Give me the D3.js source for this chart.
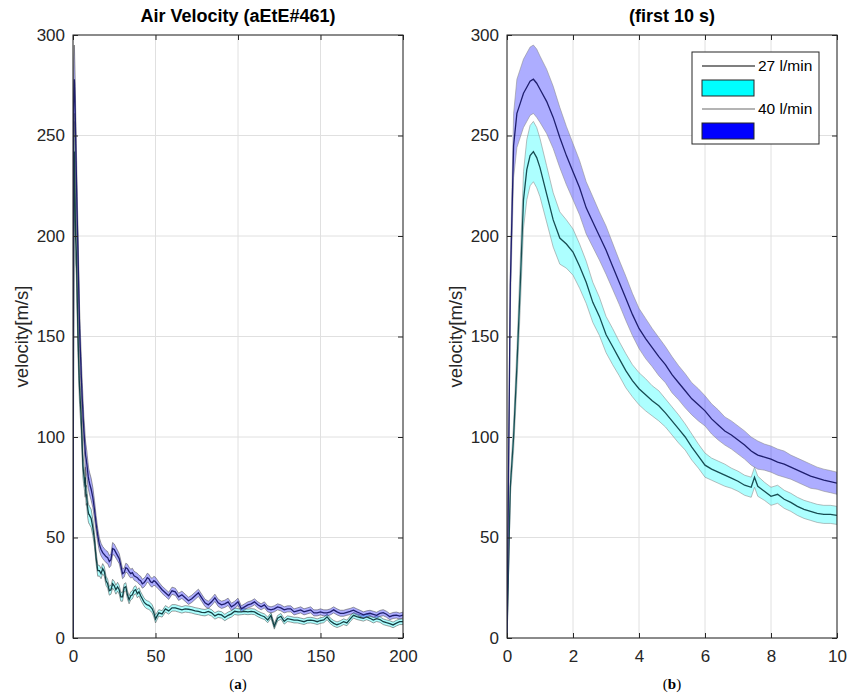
<!DOCTYPE html>
<html>
<head>
<meta charset="utf-8">
<script src="https://cdn.jsdelivr.net/npm/d3@7"></script>
<style>
  body { margin: 0; background: #fff; }
  svg text { font-family: "Liberation Sans", Arial, sans-serif; fill: #262626; }
</style>
</head>
<body>
<svg id="chart" width="848" height="693"></svg>
<script>
// ---- data ----
// first 10 s (panel b, and start of panel a)
var tShort = [0,0.1,0.2,0.3,0.4,0.5,0.6,0.7,0.8,0.9,1.0,
  1.2,1.4,1.6,1.8,2.0,2.2,2.4,2.6,2.8,3.0,3.2,3.4,3.6,3.8,4.0,4.2,4.4,4.6,4.8,5.0,
  5.2,5.4,5.6,5.8,6.0,6.2,6.4,6.6,6.8,7.0,7.2,7.4,7.5,7.6,7.8,8.0,8.2,8.4,8.6,8.8,
  9.0,9.2,9.4,9.6,9.8,10.0];

var mean27Short = [0,75,100,135,175,218,233,240,242,239,234,
  221,208,199,196,192,185,177,167,160,151,145,139,133,128,124,121,118,115.5,112,108,
  104,100,95,90.5,86,84,82.5,81,79.5,78,76,75,80,75.5,73,70.5,71.5,69,67.5,65.5,
  64,63,62,61.5,61.5,61];
var band27Short = [0,5,7,9,12,14,15,15,15,15,14.5,
  14,13.5,13,12,11.5,11,10.5,10,9.5,9,9,8.5,8.5,8,8,8,7.5,7.5,7,7,
  7,6.5,6.5,6,6,5.5,5.5,5.5,5,5,5,5,5,5,4.5,4.5,4.5,4.5,4.5,4.5,
  4.5,4.5,4.5,4.5,4.5,4.5];

var mean40Short = [0,175,245,261,266,271,274,277,278,276,273,
  267,259,249,240,232,224,214,207,200,193,185,177,169,161,154,149,144.5,140,136,131,
  127,123,119,116,113,109,106,103,101,98.5,96,93,92,91,90,89,87.5,86.5,85,83.5,
  82,80.5,79.5,78.5,77.8,77];
var band40Short = [0,12,16,17,17,17,17,17,17,17,16.5,
  16,15.5,15,14.5,14,13.5,13,12.5,12,12,11.5,11,11,10.5,10,10,9.5,9.5,9,9,
  8.5,8.5,8,8,7.5,7.5,7.5,7,7,7,7,7,7,7,6.5,6.5,6.5,6.5,6,6,
  6,6,5.5,5.5,5.5,5.5];

// 11 s .. 50 s every 1 s, then 52 s .. 200 s every 2 s (panel a)
var tLong = [11,12,13,14,15,16,17,18,19,20,21,22,23,24,25,26,27,28,29,30,
  31,32,33,34,35,36,37,38,39,40,41,42,43,44,45,46,47,48,49,50,
  52,54,56,58,60,62,64,66,68,70,72,74,76,78,80,82,84,86,88,90,
  92,94,96,98,100,102,104,106,108,110,112,114,116,118,120,122,124,126,128,130,
  132,134,136,138,140,142,144,146,148,150,152,154,156,158,160,162,164,166,168,170,
  172,174,176,178,180,182,184,186,188,190,192,194,196,198,200];

var mean27Long = [59.5,55,49,40,33.5,33.5,32,34.5,33,28.5,
  27,23.5,24,27,26,24,25.5,24,20.5,20.5,
  25,25.5,21.5,19,21,21.5,23.5,24,22,23,
  21,19.5,18,17,16.5,16.2,15.5,14.5,12.5,9.5,
  12.5,12,14.5,13.5,15,15,14.5,14,14.5,14.3,
  14,13.5,13.2,12.8,12.6,13.2,12.5,11,11.8,11.5,
  10.2,11.3,12,13.3,13,13,13.2,13,13.2,13,
  12,11.2,10.6,9,11.2,5.8,9.8,10.8,8.3,9.6,
  9.3,8.9,8.9,8.5,8.1,8.8,8.9,8.6,8.1,8.7,
  9,10.5,8.5,7.3,6.6,7.2,8.1,7.5,9.5,11.3,
  10.6,10.2,9.8,10.5,9.8,8.9,9.6,9.2,8.1,7.6,
  7.2,6.5,7.4,8.1,8.1];
var band27Long = [4.5,4,3.5,3,2.8,2.6,2.5,2.5,2.4,2.3,
  2.2,2.2,2.2,2.2,2.2,2.2,2.2,2.2,2.2,2.2,
  2,2,2,2,2,2,2,2,2,2,
  2,2,2,2,2,2,2,2,2,2,
  1.6,1.6,1.6,1.6,1.6,1.6,1.6,1.6,1.6,1.6,
  1.6,1.6,1.6,1.6,1.6,1.6,1.6,1.6,1.6,1.6,
  1.6,1.6,1.6,1.6,1.6,1.4,1.4,1.4,1.4,1.4,
  1.4,1.4,1.4,1.4,1.4,1.4,1.4,1.4,1.4,1.4,
  1.4,1.4,1.4,1.4,1.4,1.4,1.4,1.4,1.4,1.4,
  1.4,1.4,1.4,1.4,1.4,1.4,1.4,1.4,1.4,1.4,
  1.4,1.4,1.4,1.4,1.4,1.4,1.4,1.4,1.4,1.4,
  1.4,1.4,1.4,1.4,1.4];

var mean40Long = [74,70,64,57,51,46.5,44,42.5,41.5,40.5,
  40,38,39,44.5,44,42.5,41,39.5,36,32,
  32.5,35,34.5,33,32,32.5,31,30.5,30,29,
  28.5,27,27.5,28.5,30,29.5,28,27.5,28.5,28,
  26,24,22.5,21,23.5,23,20.5,21.5,20,18.5,
  19.5,21,22.5,20,17.5,16.5,18,20,17.5,16.5,
  17,18,15.5,16.5,18,14.5,15.5,16.5,17,18,
  16.5,15.5,16.5,14.5,14,14.5,15.5,15,14,14.5,
  14.5,13,13.5,14,13,13.5,14,12.5,12.5,13,
  12.5,12.5,13,14,13,12.3,12.3,12.8,13.2,13.8,
  13,12.3,11.5,12,12.3,11.8,11.3,12.2,12.6,11.8,
  10.6,11.2,11.4,10.9,11.4];
var band40Long = [5.5,5,4.5,4,3.5,3.3,3.1,3,3,3,
  3,3,3,3,2.8,2.7,2.6,2.5,2.5,2.5,
  2.2,2.2,2.2,2.2,2.2,2.2,2.2,2.2,2.2,2.2,
  2.2,2.2,2.2,2.2,2.2,2.2,2.2,2.2,2.2,2.2,
  1.8,1.8,1.8,1.8,1.8,1.8,1.8,1.8,1.8,1.8,
  1.8,1.8,1.8,1.8,1.8,1.8,1.8,1.8,1.8,1.8,
  1.8,1.8,1.8,1.8,1.8,1.5,1.5,1.5,1.5,1.5,
  1.5,1.5,1.5,1.5,1.5,1.5,1.5,1.5,1.5,1.5,
  1.5,1.5,1.5,1.5,1.5,1.5,1.5,1.5,1.5,1.5,
  1.5,1.5,1.5,1.5,1.5,1.5,1.5,1.5,1.5,1.5,
  1.5,1.5,1.5,1.5,1.5,1.5,1.5,1.5,1.5,1.5,
  1.5,1.5,1.5,1.5,1.5];

var yTicks = [0,50,100,150,200,250,300];
var xTicksA = [0,50,100,150,200];
var xTicksB = [0,2,4,6,8,10];
var legendNames = ["27 l/min", "40 l/min"];

// ---- drawing ----
var svg = d3.select("#chart");

function rows(t, m, b){
  return t.map(function(v, i){ return {t: v, m: m[i], b: b[i]}; });
}

var s27a = rows(tShort.concat(tLong), mean27Short.concat(mean27Long), band27Short.concat(band27Long));
var s40a = rows(tShort.concat(tLong), mean40Short.concat(mean40Long), band40Short.concat(band40Long));
var s27b = rows(tShort, mean27Short, band27Short);
var s40b = rows(tShort, mean40Short, band40Short);

var plotTop = 35, plotBottom = 638;

function panel(id, x0, x1, xMax, xTicks, title, series, edge){
  var x = d3.scaleLinear().domain([0, xMax]).range([x0, x1]);
  var y = d3.scaleLinear().domain([0, 300]).range([plotBottom, plotTop]);
  var g = svg.append("g");

  // grid
  g.selectAll(".gx").data(xTicks).enter().append("line")
    .attr("x1", function(d){ return x(d); }).attr("x2", function(d){ return x(d); })
    .attr("y1", plotTop).attr("y2", plotBottom)
    .attr("stroke", "#e0e0e0").attr("stroke-width", 1);
  g.selectAll(".gy").data(yTicks).enter().append("line")
    .attr("x1", x0).attr("x2", x1)
    .attr("y1", function(d){ return y(d); }).attr("y2", function(d){ return y(d); })
    .attr("stroke", "#e0e0e0").attr("stroke-width", 1);

  svg.append("clipPath").attr("id", id)
    .append("rect").attr("x", x0).attr("y", plotTop).attr("width", x1 - x0).attr("height", plotBottom - plotTop);
  var plot = g.append("g").attr("clip-path", "url(#" + id + ")");

  var area = d3.area()
    .x(function(d){ return x(d.t); })
    .y0(function(d){ return y(d.m - d.b); })
    .y1(function(d){ return y(d.m + d.b); });
  var line = d3.line()
    .x(function(d){ return x(d.t); })
    .y(function(d){ return y(d.m); });

  series.forEach(function(s){
    plot.append("path").datum(s.data).attr("d", area)
      .attr("fill", s.fill).attr("fill-opacity", 0.32)
      .attr("stroke", edge).attr("stroke-opacity", 0.7).attr("stroke-width", 0.8);
    plot.append("path").datum(s.data).attr("d", line)
      .attr("fill", "none").attr("stroke", s.line).attr("stroke-width", 1.3);
  });

  // axes, ticks pointing inward
  g.append("g").attr("transform", "translate(0," + plotBottom + ")")
    .call(d3.axisBottom(x).tickValues(xTicks).tickSize(-5).tickPadding(12));
  g.append("g").attr("transform", "translate(" + x0 + ",0)")
    .call(d3.axisLeft(y).tickValues(yTicks).tickSize(-5).tickPadding(8));
  g.append("g").attr("transform", "translate(0," + plotTop + ")")
    .call(d3.axisTop(x).tickValues(xTicks).tickSize(-5).tickFormat(""));
  g.append("g").attr("transform", "translate(" + x1 + ",0)")
    .call(d3.axisRight(y).tickValues(yTicks).tickSize(-5).tickFormat(""));
  g.selectAll(".domain").remove();
  g.selectAll(".tick line").attr("stroke", "#262626");
  g.selectAll(".tick text").style("font-size", "17px").style("fill", "#262626")
    .style("font-family", "'Liberation Sans', Arial, sans-serif");

  g.append("rect").attr("x", x0).attr("y", plotTop).attr("width", x1 - x0).attr("height", plotBottom - plotTop)
    .attr("fill", "none").attr("stroke", "#262626").attr("stroke-width", 1);

  g.append("text").attr("x", (x0 + x1) / 2).attr("y", 22)
    .attr("text-anchor", "middle").style("font-size", "18px").style("font-weight", "bold")
    .style("fill", "#000").text(title);

  g.append("text")
    .attr("transform", "translate(" + (x0 - 45) + "," + ((plotTop + plotBottom) / 2) + ") rotate(-90)")
    .attr("text-anchor", "middle").style("font-size", "18.5px").text("velocity[m/s]");
}

panel("clipA", 73, 403, 200, xTicksA, "Air Velocity (aEtE#461)", [
  {data: s27a, fill: "#00ffff", line: "#143f44"},
  {data: s40a, fill: "#0000ff", line: "#1e1e6e"}
], "#505050");
panel("clipB", 507, 837, 10, xTicksB, "(first 10 s)", [
  {data: s27b, fill: "#00ffff", line: "#174d52"},
  {data: s40b, fill: "#0000ff", line: "#1e1e6e"}
], "#8a8a8a");

// legend (as in the figure: line + patch per entry)
var lg = svg.append("g").attr("transform", "translate(692,52)");
lg.append("rect").attr("width", 127).attr("height", 92)
  .attr("fill", "#fff").attr("stroke", "#262626").attr("stroke-width", 1);
var legendLine = ["#000000", "#6b6b6b"];
var legendPatch = ["#00ffff", "#0000ff"];
legendNames.forEach(function(name, i){
  var yy = 14 + i * 43;
  lg.append("line").attr("x1", 10).attr("x2", 63).attr("y1", yy).attr("y2", yy)
    .attr("stroke", legendLine[i]).attr("stroke-width", 1.2);
  lg.append("text").attr("x", 66).attr("y", yy + 5).style("font-size", "15.5px")
    .style("fill", "#000").text(name);
  lg.append("rect").attr("x", 10).attr("y", yy + 14).attr("width", 52).attr("height", 16)
    .attr("fill", legendPatch[i]).attr("stroke", "#262626").attr("stroke-width", 1);
});

// sub-figure captions
[["a", 238], ["b", 672]].forEach(function(c){
  var t = svg.append("text").attr("x", c[1]).attr("y", 689).attr("text-anchor", "middle")
    .style("font-family", "'Liberation Serif', 'Times New Roman', serif").style("font-size", "15px")
    .style("fill", "#000");
  t.append("tspan").text("(");
  t.append("tspan").style("font-weight", "bold").text(c[0]);
  t.append("tspan").text(")");
});
</script>
</body>
</html>
